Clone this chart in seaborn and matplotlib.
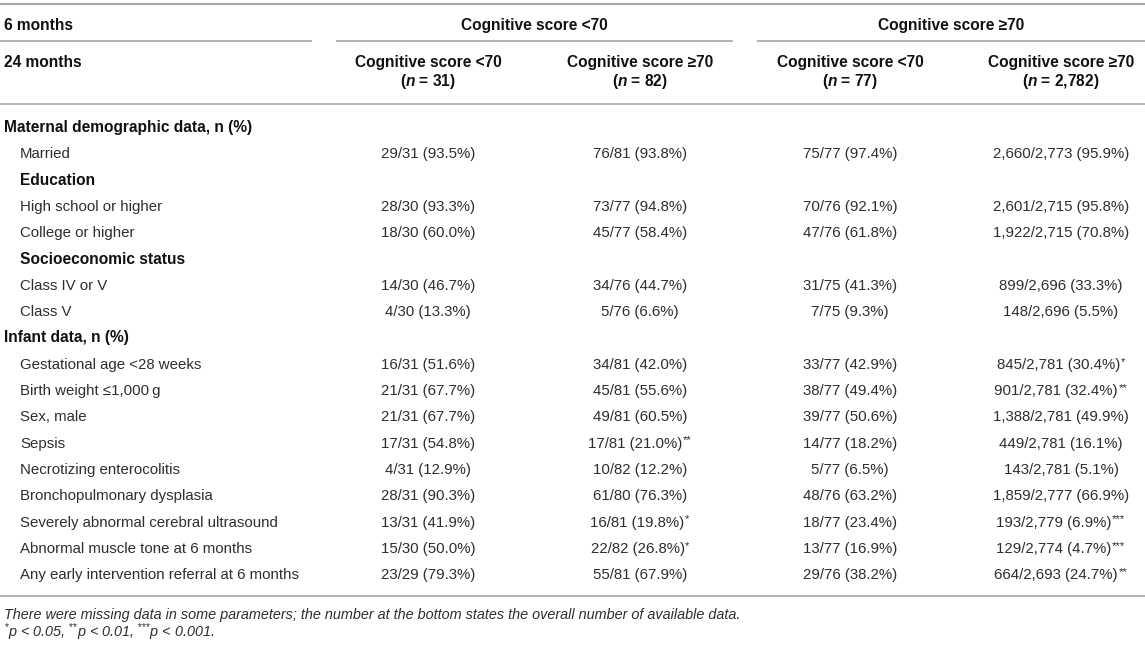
import matplotlib
matplotlib.use("Agg")
import matplotlib.pyplot as plt
import seaborn as sns

# Table content
group_headers = ["Cognitive score <70", "Cognitive score ≥70"]
sub_headers = ["Cognitive score <70", "Cognitive score ≥70", "Cognitive score <70", "Cognitive score ≥70"]
group_n = ["31", "82", "77", "2,782"]

row_labels = [
    "Maternal demographic data, n (%)", "Married", "Education",
    "High school or higher", "College or higher", "Socioeconomic status",
    "Class IV or V", "Class V", "Infant data, n (%)",
    "Gestational age <28 weeks", "Birth weight ≤1,000\u2009g", "Sex, male",
    "Sepsis", "Necrotizing enterocolitis", "Bronchopulmonary dysplasia",
    "Severely abnormal cerebral ultrasound", "Abnormal muscle tone at 6 months",
    "Any early intervention referral at 6 months",
]
# 0 = section (bold, flush), 1 = subsection (bold, indented), 2 = item
row_levels = [0, 2, 1, 2, 2, 1, 2, 2, 0, 2, 2, 2, 2, 2, 2, 2, 2, 2]

col1 = ["29/31 (93.5%)", "28/30 (93.3%)", "18/30 (60.0%)", "14/30 (46.7%)", "4/30 (13.3%)",
        "16/31 (51.6%)", "21/31 (67.7%)", "21/31 (67.7%)", "17/31 (54.8%)", "4/31 (12.9%)",
        "28/31 (90.3%)", "13/31 (41.9%)", "15/30 (50.0%)", "23/29 (79.3%)"]
col2 = ["76/81 (93.8%)", "73/77 (94.8%)", "45/77 (58.4%)", "34/76 (44.7%)", "5/76 (6.6%)",
        "34/81 (42.0%)", "45/81 (55.6%)", "49/81 (60.5%)", "17/81 (21.0%)", "10/82 (12.2%)",
        "61/80 (76.3%)", "16/81 (19.8%)", "22/82 (26.8%)", "55/81 (67.9%)"]
col3 = ["75/77 (97.4%)", "70/76 (92.1%)", "47/76 (61.8%)", "31/75 (41.3%)", "7/75 (9.3%)",
        "33/77 (42.9%)", "38/77 (49.4%)", "39/77 (50.6%)", "14/77 (18.2%)", "5/77 (6.5%)",
        "48/76 (63.2%)", "18/77 (23.4%)", "13/77 (16.9%)", "29/76 (38.2%)"]
col4 = ["2,660/2,773 (95.9%)", "2,601/2,715 (95.8%)", "1,922/2,715 (70.8%)", "899/2,696 (33.3%)",
        "148/2,696 (5.5%)", "845/2,781 (30.4%)", "901/2,781 (32.4%)", "1,388/2,781 (49.9%)",
        "449/2,781 (16.1%)", "143/2,781 (5.1%)", "1,859/2,777 (66.9%)", "193/2,779 (6.9%)",
        "129/2,774 (4.7%)", "664/2,693 (24.7%)"]
sig1 = [0] * 14
sig2 = [0, 0, 0, 0, 0, 0, 0, 0, 2, 0, 0, 1, 1, 0]
sig3 = [0] * 14
sig4 = [0, 0, 0, 0, 0, 1, 2, 0, 0, 0, 0, 3, 3, 2]

footnote1 = ("There were missing data in some parameters; the number at the bottom "
             "states the overall number of available data.")
p_levels = ["0.05", "0.01", "0.001"]

sns.set_theme(style="white")
plt.rcParams["font.family"] = ["Liberation Sans", "DejaVu Sans"]
plt.rcParams["mathtext.fontset"] = "custom"
plt.rcParams["mathtext.rm"] = "Liberation Sans"
plt.rcParams["mathtext.it"] = "Liberation Sans:italic"
plt.rcParams["mathtext.bf"] = "Liberation Sans:bold"
plt.rcParams["mathtext.bfit"] = "Liberation Sans:italic:bold"

W, H = 1145, 645
fig = plt.figure(figsize=(W / 100, H / 100), dpi=100)
ax = fig.add_axes([0, 0, 1, 1])
ax.set_xlim(0, W)
ax.set_ylim(H, 0)
ax.axis("off")

fs = 10.8
fs_b = 11.2
fs_star = 8.2
txt = "#2e2e2e"
hdr = "#111111"
rule = "#a8a8a8"
col_x = [428, 640, 850, 1061]
x_flush, x_indent = 4, 20
dy = 5  # text centre -> baseline

# rules
ax.hlines(4, 0, W, color=rule, lw=1.5)
ax.hlines(41, 0, 312, color=rule, lw=1.2)
ax.hlines(41, 336, 733, color=rule, lw=1.2)
ax.hlines(41, 757, W, color=rule, lw=1.2)
ax.hlines(104, 0, W, color=rule, lw=1.2)
ax.hlines(596, 0, W, color=rule, lw=1.2)

# header
hk = dict(fontsize=fs_b, color=hdr, fontweight="bold", va="baseline")
ax.text(x_flush, 25 + dy, "6 months", ha="left", **hk)
ax.text(534, 25 + dy, group_headers[0], ha="center", **hk)
ax.text(951, 25 + dy, group_headers[1], ha="center", **hk)
ax.text(x_flush, 62 + dy, "24 months", ha="left", **hk)
for x, s, n in zip(col_x, sub_headers, group_n):
    ax.text(x, 62 + dy, s, ha="center", **hk)
    ax.text(x, 81 + dy, r"($\mathbfit{n}$ = " + n + ")", ha="center", **hk)

# body
y0, pitch = 127, 26.3
cols = [col1, col2, col3, col4]
sigs = [sig1, sig2, sig3, sig4]
k = 0
for i, (lab, lev) in enumerate(zip(row_labels, row_levels)):
    yb = y0 + i * pitch + dy
    if lev < 2:
        ax.text(x_flush if lev == 0 else x_indent, yb, lab, ha="left", va="baseline",
                fontsize=fs_b, fontweight="bold", color=hdr)
        continue
    ax.text(x_indent, yb, lab, ha="left", va="baseline", fontsize=fs, color=txt)
    for x, c, sg in zip(col_x, cols, sigs):
        # value centred together with its significance stars
        t = ax.text(x - 2.4 * sg[k], yb, c[k], ha="center", va="baseline",
                    fontsize=fs, color=txt)
        if sg[k]:
            ax.annotate("*" * sg[k], xy=(1, 1), xycoords=t, xytext=(0.4, 0.8),
                        textcoords="offset points", ha="left", va="top",
                        fontsize=fs_star, color=txt)
    k += 1

# footnotes
fs_f = 10.4
ax.text(x_flush, 614 + dy, footnote1, ha="left", va="baseline", fontsize=fs_f,
        style="italic", color=txt)
footnote2 = ", ".join(r"$^{" + "{*}" * (i + 1) + "}$" + "p < " + p
                      for i, p in enumerate(p_levels)) + "."
ax.text(x_flush, 632 + dy, footnote2, ha="left", va="baseline", fontsize=fs_f,
        style="italic", color=txt)

fig.savefig("out.png", dpi=100)
